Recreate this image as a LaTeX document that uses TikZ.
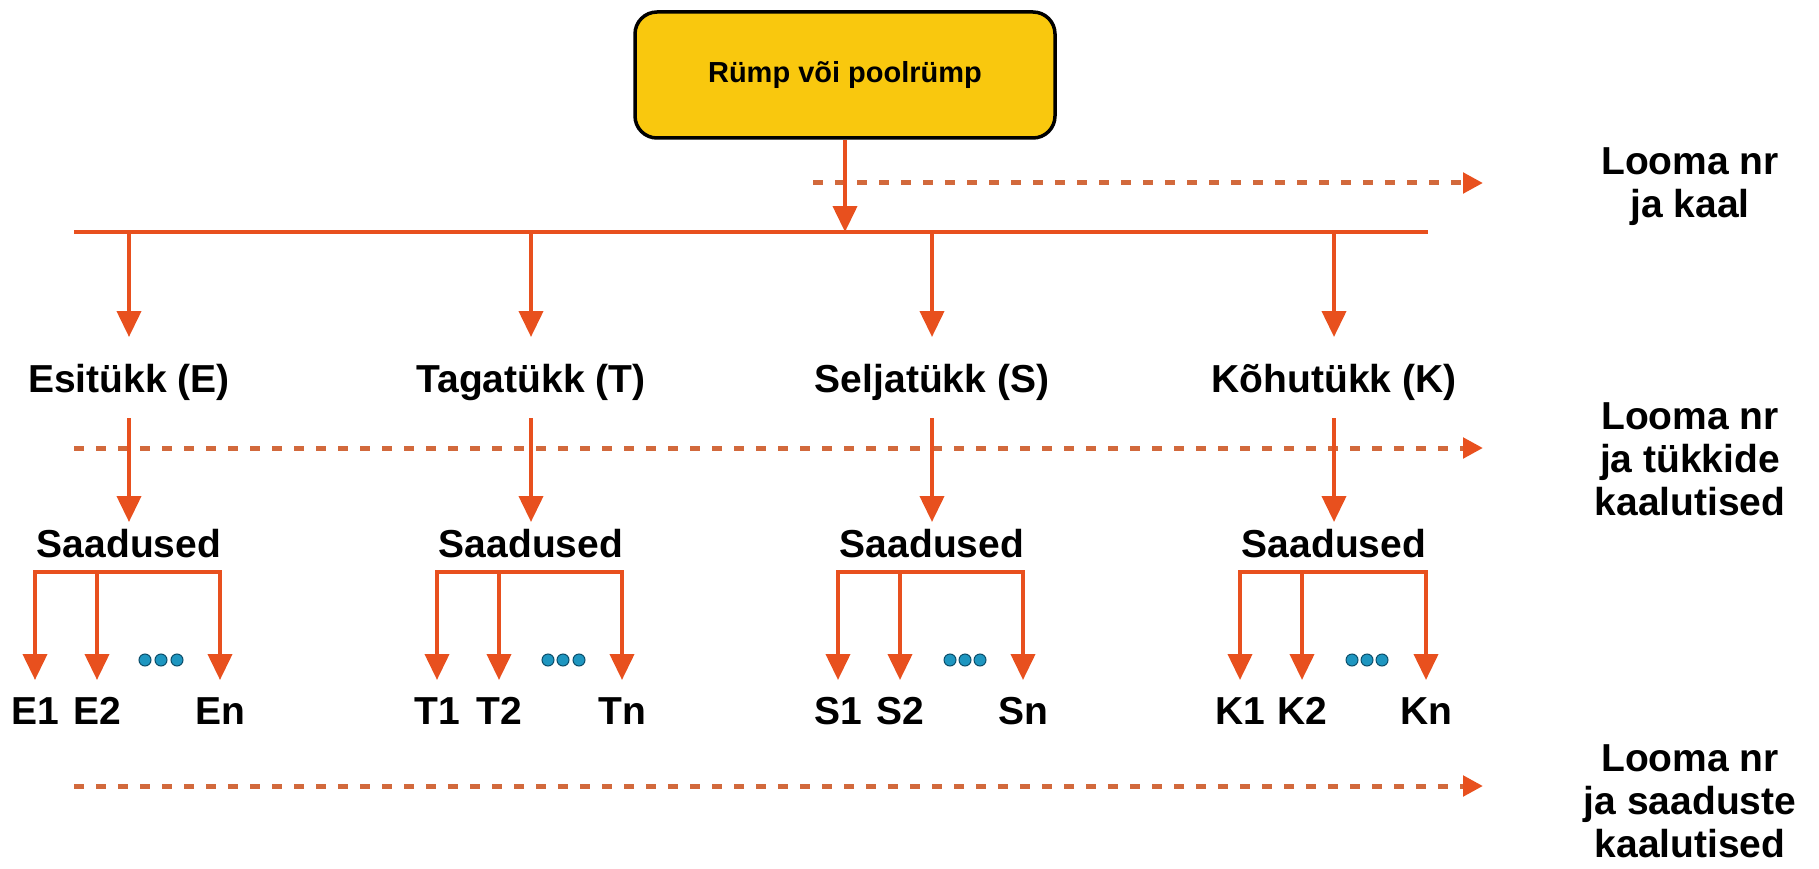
\documentclass[tikz,border=0pt]{standalone}
\usepackage{fontspec}
\setmainfont{Liberation Sans}
\usetikzlibrary{arrows.meta}

\definecolor{arrowred}{HTML}{E8501E}
\definecolor{flowbrown}{HTML}{D2693C}
\definecolor{boxyellow}{HTML}{F9C80E}
\definecolor{dotblue}{HTML}{1E96C0}
\definecolor{dotedge}{HTML}{0B4E6B}

\begin{document}
\begin{tikzpicture}[x=1pt, y=-1pt,
    arr/.style={draw=arrowred, line width=4pt, -{Triangle[length=26pt, width=24pt]}},
    bus/.style={draw=arrowred, line width=4.5pt},
    flow/.style={draw=flowbrown, line width=5pt, dash pattern=on 10pt off 12pt,
        -{Triangle[length=20pt, width=20pt, color=arrowred]}},
    rumpbox/.style={draw=black, line width=3.5pt, fill=boxyellow, rounded corners=22pt,
        minimum width=420pt, minimum height=126pt, font=\fontsize{29}{34}\selectfont\bfseries},
    part/.style={font=\fontsize{39}{43}\selectfont\bfseries, inner sep=0pt,
        text height=30pt, text depth=1pt, outer ysep=25pt},
    prod/.style={font=\fontsize{39}{43}\selectfont\bfseries, inner sep=0pt,
        text height=28pt, text depth=8pt, outer ysep=7pt},
    leaf/.style={font=\fontsize{39}{43}\selectfont\bfseries, inner sep=0pt,
        text height=30pt, text depth=0pt, outer ysep=14pt},
    side/.style={font=\fontsize{39}{43}\selectfont\bfseries, inner sep=0pt, align=center},
    dot/.style={fill=dotblue, draw=dotedge, line width=1pt}]

    \useasboundingbox (0,0) rectangle (1819,869);

    % Carcass
    \node[rumpbox] (rump) at (845,75) {Rümp või poolrümp};
    \coordinate (busL) at (74,232);
    \coordinate (busR) at (1428,232);

    % Weighing lines
    \coordinate (f1s) at (813,183);
    \coordinate (f1e) at (1483,183);
    \coordinate (f2s) at (74,448);
    \coordinate (f2e) at (1483,448);
    \coordinate (f3s) at (74,786);
    \coordinate (f3e) at (1483,786);
    \draw[flow] (f1s) -- (f1e);
    \draw[flow] (f2s) -- (f2e);
    \draw[flow] (f3s) -- (f3e);

    % Weighing labels (base = last line)
    \node[side, anchor=base] (w1) at (1690,217) {Looma nr\\ja kaal};
    \node[side, anchor=base] (w2) at (1690,515) {Looma nr\\ja tükkide\\kaalutised};
    \node[side, anchor=base] (w3) at (1690,857) {Looma nr\\ja saaduste\\kaalutised};

    \draw[arr] (rump) -- (rump |- busL);
    \draw[bus] (busL) -- (busR);

    % Cuts
    \node[part, anchor=base] (E) at (129,392) {Esitükk (E)};
    \node[part, anchor=base] (T) at (531,392) {Tagatükk (T)};
    \node[part, anchor=base] (S) at (932,392) {Seljatükk (S)};
    \node[part, anchor=base] (K) at (1334,392) {Kõhutükk (K)};

    \draw[arr] (E |- busL) -- (E);
    \draw[arr] (T |- busL) -- (T);
    \draw[arr] (S |- busL) -- (S);
    \draw[arr] (K |- busL) -- (K);

    % Products
    \node[prod, anchor=base] (sE) at (129,557) {Saadused};
    \node[prod, anchor=base] (sT) at (531,557) {Saadused};
    \node[prod, anchor=base] (sS) at (932,557) {Saadused};
    \node[prod, anchor=base] (sK) at (1334,557) {Saadused};

    \draw[arr] (E) -- (sE);
    \draw[arr] (T) -- (sT);
    \draw[arr] (S) -- (sS);
    \draw[arr] (K) -- (sK);

    % Front cut products
    \node[leaf, anchor=base] (E1) at (35,724) {E1};
    \node[leaf, anchor=base] (E2) at (97,724) {E2};
    \node[leaf, anchor=base] (En) at (220,724) {En};
    \draw[arr] (E2 |- sE.south) -- (E1 |- sE.south) -- (E1);
    \draw[arr] (E2 |- sE.south) -- (E2);
    \draw[arr] (E2 |- sE.south) -- (En |- sE.south) -- (En);
    \filldraw[dot] (145,660) circle (6pt) (161,660) circle (6pt) (177,660) circle (6pt);

    % Hind cut products
    \node[leaf, anchor=base] (T1) at (437,724) {T1};
    \node[leaf, anchor=base] (T2) at (499,724) {T2};
    \node[leaf, anchor=base] (Tn) at (622,724) {Tn};
    \draw[arr] (T2 |- sT.south) -- (T1 |- sT.south) -- (T1);
    \draw[arr] (T2 |- sT.south) -- (T2);
    \draw[arr] (T2 |- sT.south) -- (Tn |- sT.south) -- (Tn);
    \filldraw[dot] (548,660) circle (6pt) (563,660) circle (6pt) (579,660) circle (6pt);

    % Back cut products
    \node[leaf, anchor=base] (S1) at (838,724) {S1};
    \node[leaf, anchor=base] (S2) at (900,724) {S2};
    \node[leaf, anchor=base] (Sn) at (1023,724) {Sn};
    \draw[arr] (S2 |- sS.south) -- (S1 |- sS.south) -- (S1);
    \draw[arr] (S2 |- sS.south) -- (S2);
    \draw[arr] (S2 |- sS.south) -- (Sn |- sS.south) -- (Sn);
    \filldraw[dot] (950,660) circle (6pt) (965,660) circle (6pt) (980,660) circle (6pt);

    % Belly cut products
    \node[leaf, anchor=base] (K1) at (1240,724) {K1};
    \node[leaf, anchor=base] (K2) at (1302,724) {K2};
    \node[leaf, anchor=base] (Kn) at (1426,724) {Kn};
    \draw[arr] (K2 |- sK.south) -- (K1 |- sK.south) -- (K1);
    \draw[arr] (K2 |- sK.south) -- (K2);
    \draw[arr] (K2 |- sK.south) -- (Kn |- sK.south) -- (Kn);
    \filldraw[dot] (1352,660) circle (6pt) (1367,660) circle (6pt) (1382,660) circle (6pt);
\end{tikzpicture}
\end{document}
